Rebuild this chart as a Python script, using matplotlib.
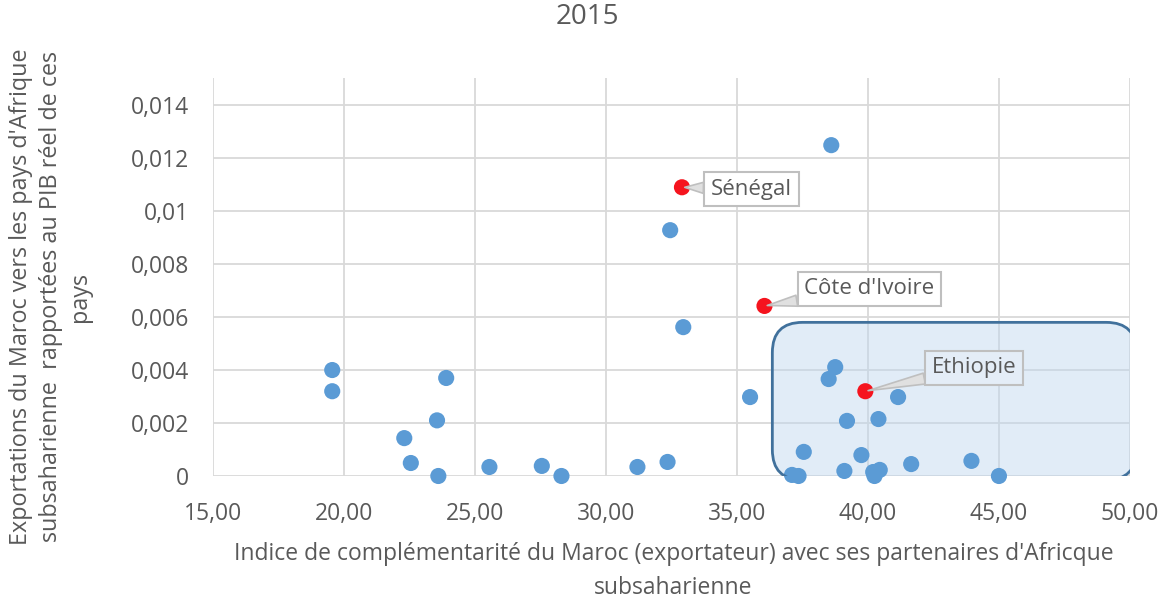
import matplotlib
matplotlib.use("Agg")
import matplotlib.pyplot as plt
from matplotlib.patches import FancyBboxPatch
from matplotlib.ticker import FuncFormatter

# ---------------------------------------------------------------------------
# Data
# ---------------------------------------------------------------------------
blue_x = [19.55, 19.55, 23.9, 23.55, 22.3, 22.55, 23.6, 25.55, 27.55, 28.3,
          31.2, 32.35, 32.45, 32.95, 38.6, 35.5, 38.75, 38.5, 41.15, 39.2,
          40.4, 37.55, 39.75, 39.1, 37.1, 37.35, 40.2, 40.45, 40.25, 41.65,
          43.95, 45.0]
blue_y = [0.0040, 0.0032, 0.0037, 0.0021, 0.00143, 0.00049, 0.0, 0.00034,
          0.00038, 0.0, 0.00034, 0.00053, 0.00928, 0.00562, 0.01249, 0.00298,
          0.00411, 0.00366, 0.00298, 0.00208, 0.00215, 0.00091, 0.00079,
          0.00019, 0.00004, 0.0, 0.00015, 0.00023, 0.0, 0.00045, 0.00057, 0.0]

red_names = ["Sénégal", "Côte d'Ivoire", "Ethiopie"]
red_x = [32.9, 36.05, 39.9]
red_y = [0.0109, 0.00642, 0.0032]
label_x = [35.55, 40.05, 44.05]
label_y = [0.01083, 0.00706, 0.00408]

# highlighted zone (data units)
zone_x = (36.35, 50.25)
zone_y = (-0.00015, 0.0058)

x_ticks = [15, 20, 25, 30, 35, 40, 45, 50]
y_ticks = [0, 0.002, 0.004, 0.006, 0.008, 0.010, 0.012, 0.014]

TITLE = "2015"
XLABEL = ("Indice de complémentarité du Maroc (exportateur) avec ses partenaires d'Africque\n"
          "subsaharienne")
YLABEL = ("Exportations du Maroc vers les pays d'Afrique\n"
          "subsaharienne  rapportées au PIB réel de ces\n"
          "pays")

TEXT = "#595959"
GRID = "#D9D9D9"
BLUE = "#5B9BD5"
RED = "#F5141E"

plt.rcParams["font.family"] = ["Open Sans", "DejaVu Sans"]


def y_fmt(v, _pos):
    if abs(v) < 1e-12:
        return "0"
    return f"{v:.3f}".rstrip("0").replace(".", ",")


fig = plt.figure(figsize=(11.68, 6.01), dpi=100)
ax = fig.add_axes([0.1824, 0.208, 0.785, 0.662])

ax.set_xlim(15, 50)
ax.set_ylim(0, 0.01502)
ax.set_xticks(x_ticks)
ax.set_yticks(y_ticks)
ax.xaxis.set_major_formatter(FuncFormatter(lambda v, p: f"{v:.2f}".replace(".", ",")))
ax.yaxis.set_major_formatter(FuncFormatter(y_fmt))
ax.tick_params(length=0, labelsize=16.5, colors=TEXT)
ax.tick_params(axis="x", pad=19)
ax.tick_params(axis="y", pad=17)
ax.grid(True, color=GRID, linewidth=1.3)
ax.set_axisbelow(True)
for s in ax.spines.values():
    s.set_visible(False)

# highlight box, rounded in pixel space
ax_w = 1168 * 0.785
ax_h = 601 * 0.662
x0 = (zone_x[0] - 15) / 35
x1 = (zone_x[1] - 15) / 35
y0 = zone_y[0] / 0.01502
y1 = zone_y[1] / 0.01502
box = FancyBboxPatch((x0, y0), x1 - x0, y1 - y0,
                     boxstyle="round,pad=0,rounding_size=0.033",
                     mutation_aspect=ax_w / ax_h,
                     transform=ax.transAxes, facecolor="#BDD7EE", alpha=0.45,
                     edgecolor="none", zorder=1)
ax.add_patch(box)
box_edge = FancyBboxPatch((x0, y0), x1 - x0, y1 - y0,
                          boxstyle="round,pad=0,rounding_size=0.033",
                          mutation_aspect=ax_w / ax_h,
                          transform=ax.transAxes, facecolor="none",
                          edgecolor="#41719C", linewidth=2, zorder=4)
ax.add_patch(box_edge)

ax.scatter(blue_x, blue_y, s=135, color=BLUE, edgecolors="none", zorder=3, clip_on=False)
ax.scatter(red_x, red_y, s=135, color=RED, edgecolors="none", zorder=5, clip_on=False)

for name, px, py, lx, ly in zip(red_names, red_x, red_y, label_x, label_y):
    fc = "#E4EDF7" if name == "Ethiopie" else "white"
    ax.annotate(name, xy=(px, py), xytext=(lx, ly), ha="center", va="center",
                fontsize=16, color=TEXT, zorder=6,
                bbox=dict(boxstyle="square,pad=0.3", fc=fc, ec="#BFBFBF", lw=1.5),
                arrowprops=dict(arrowstyle="wedge,tail_width=0.5,shrink_factor=0.5",
                                fc="#E0E0E0", ec="#BFBFBF", lw=1.2,
                                shrinkA=0, shrinkB=2))

fig.text(0.503, 0.972, TITLE, ha="center", va="center", fontsize=20, color=TEXT)
ax.set_xlabel(XLABEL, fontsize=16.5, color=TEXT, linespacing=1.55, va="top")
ax.xaxis.set_label_coords(0.502, -0.165)
ax.set_ylabel(YLABEL, fontsize=16.8, color=TEXT, linespacing=1.3)
ax.yaxis.set_label_coords(-0.132, 0.45)

fig.savefig("out.png", dpi=100)
